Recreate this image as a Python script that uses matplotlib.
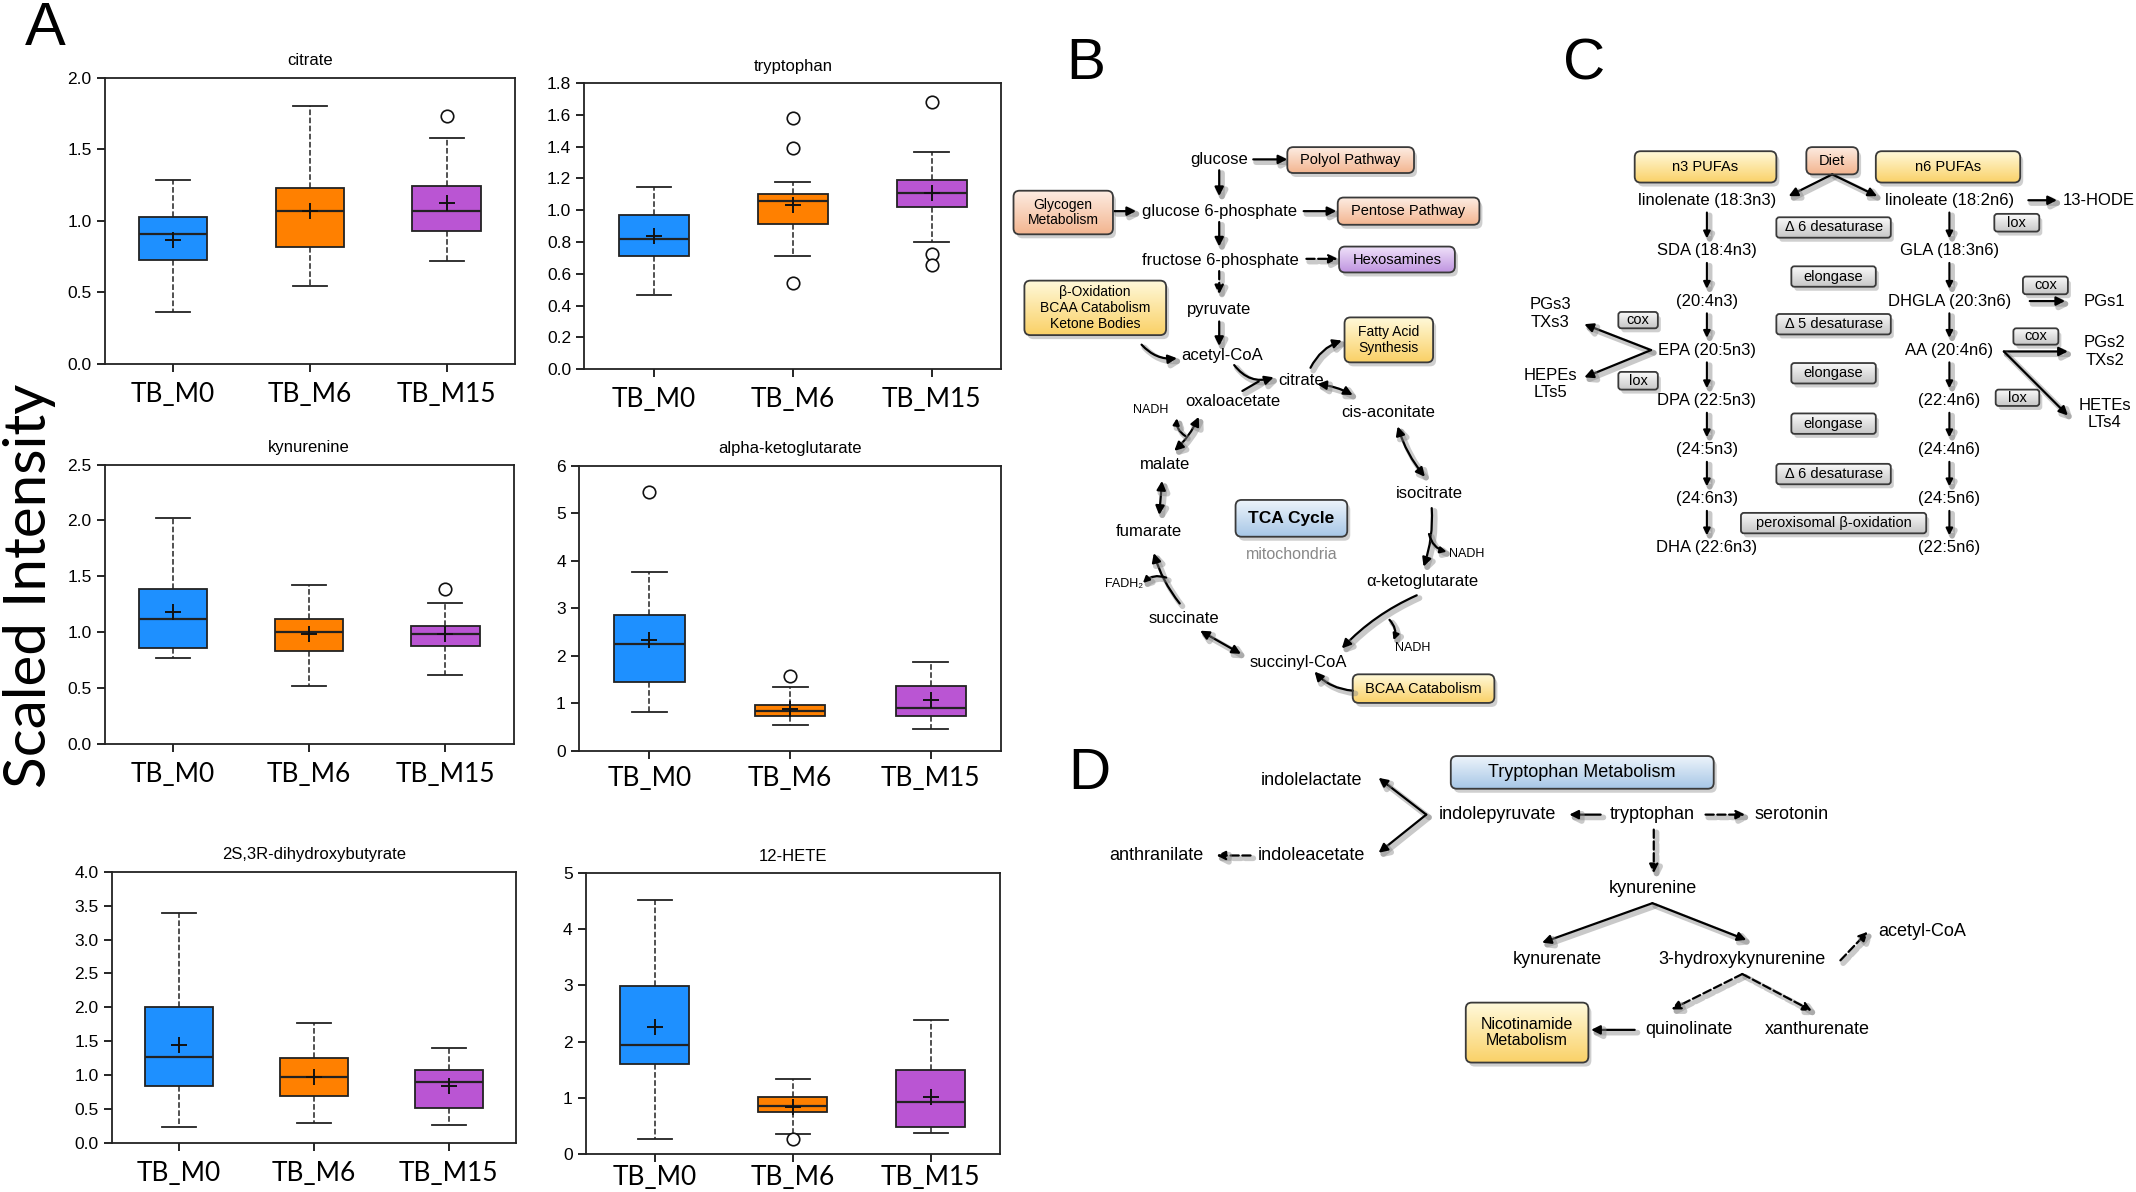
import numpy as np
import matplotlib
matplotlib.use('Agg')
import matplotlib.pyplot as plt
from matplotlib.patches import FancyBboxPatch
from matplotlib.colors import LinearSegmentedColormap
from matplotlib.ticker import FormatStrFormatter, MultipleLocator
import matplotlib.patheffects as pe

W, H = 2136, 1192
S = 2136 / 1568.0
SANS = ['Liberation Sans', 'DejaVu Sans']
CAL = ['Lato', 'DejaVu Sans']

groups = ['TB_M0', 'TB_M6', 'TB_M15']
colors = ['#1E90FF', '#FF8000', '#BA55D3']

# rows per group: [whisker low, Q1, median, Q3, whisker high, mean]
citrate = [[0.36, 0.725, 0.904, 1.024, 1.285, 0.866],
           [0.544, 0.818, 1.069, 1.226, 1.80, 1.07],
           [0.72, 0.927, 1.066, 1.245, 1.577, 1.127]]
citrate_out = [[], [], [1.735]]

tryptophan = [[0.467, 0.712, 0.821, 0.970, 1.144, 0.836],
              [0.710, 0.914, 1.060, 1.104, 1.180, 1.031],
              [0.803, 1.023, 1.111, 1.190, 1.366, 1.109]]
tryptophan_out = [[], [1.582, 1.391, 0.541], [1.681, 0.727, 0.658]]

kynurenine = [[0.769, 0.861, 1.114, 1.386, 2.02, 1.18],
              [0.515, 0.828, 0.998, 1.12, 1.424, 0.986],
              [0.617, 0.873, 0.986, 1.052, 1.257, 0.983]]
kynurenine_out = [[], [], [1.383]]

akg = [[0.817, 1.45, 2.256, 2.86, 3.77, 2.34],
       [0.531, 0.726, 0.831, 0.964, 1.334, 0.873],
       [0.447, 0.726, 0.901, 1.369, 1.858, 1.068]]
akg_out = [[5.44], [1.564], []]

dhb = [[0.236, 0.84, 1.263, 2.0, 3.395, 1.44],
       [0.295, 0.698, 0.978, 1.248, 1.769, 0.968],
       [0.26, 0.511, 0.899, 1.071, 1.405, 0.84]]
dhb_out = [[], [], []]

hete = [[0.262, 1.60, 1.94, 2.988, 4.518, 2.262],
        [0.345, 0.738, 0.845, 1.012, 1.333, 0.839],
        [0.363, 0.482, 0.923, 1.50, 2.393, 1.012]]
hete_out = [[], [0.268], []]

fig = plt.figure(figsize=(21.36, 11.92), dpi=100)


def frac_rect(l, t, r, b):
    return [l * S / W, 1 - b * S / H, (r - l) * S / W, (b - t) * S / H]


panels = [
    ('citrate', citrate, citrate_out, 2.0, 0.5, '%.1f', (77, 57, 378, 267), 7),
    ('tryptophan', tryptophan, tryptophan_out, 1.8, 0.2, '%.1f', (429, 61, 735, 271), 7),
    ('kynurenine', kynurenine, kynurenine_out, 2.5, 0.5, '%.1f', (77, 341, 377, 546), 7),
    ('alpha-ketoglutarate', akg, akg_out, 6, 1, '%d', (425, 342, 735, 551), 5),
    ('2S,3R-dihydroxybutyrate', dhb, dhb_out, 4.0, 0.5, '%.1f', (82, 640, 379, 839), 7),
    ('12-HETE', hete, hete_out, 5, 1, '%d', (430, 641, 734, 847), 2),
]

for title, st, outl, ymax, step, fmt, rect, xpad in panels:
    ax = fig.add_axes(frac_rect(*rect))
    stats = []
    for g, row, o in zip(groups, st, outl):
        stats.append(dict(label=g, whislo=row[0], q1=row[1], med=row[2], q3=row[3],
                          whishi=row[4], mean=row[5], fliers=o))
    bp = ax.bxp(stats, positions=[1, 2, 3], widths=0.5, capwidths=0.25, patch_artist=True,
                showmeans=True,
                boxprops=dict(edgecolor='#222222', linewidth=1.3),
                medianprops=dict(color='#222222', linewidth=1.6),
                whiskerprops=dict(color='#222222', linestyle='--', linewidth=1.1),
                capprops=dict(color='#222222', linewidth=1.3),
                meanprops=dict(marker='+', markeredgecolor='#111111', markersize=11,
                               markeredgewidth=1.4),
                flierprops=dict(marker='o', markerfacecolor='white', markeredgecolor='#111111',
                                markersize=9, markeredgewidth=1.2))
    for patch, c in zip(bp['boxes'], colors):
        patch.set_facecolor(c)
    ax.set_xlim(0.5, 3.5)
    ax.set_ylim(0, ymax)
    ax.yaxis.set_major_locator(MultipleLocator(step))
    ax.yaxis.set_major_formatter(FormatStrFormatter(fmt))
    ax.set_xticks([1, 2, 3])
    ax.set_xticklabels(groups, fontsize=19, fontfamily=CAL)
    for lab in ax.get_yticklabels():
        lab.set_fontfamily(SANS)
        lab.set_fontsize(12.5)
    ax.tick_params(direction='out', length=6, width=1.2, top=False, right=False)
    ax.tick_params(axis='x', pad=xpad)
    for sp in ax.spines.values():
        sp.set_linewidth(1.3)
        sp.set_color('#222222')
    ax.set_title(title, fontsize=12, fontfamily=SANS, pad=9)

# ---------------- overlay for diagrams -----------------
ov = fig.add_axes([0, 0, 1, 1])
ov.set_xlim(0, W)
ov.set_ylim(H, 0)
ov.set_autoscale_on(False)
ov.axis('off')

SAL = ('#FDEDE3', '#F3B590')
YEL = ('#FFF9DA', '#FAD167')
PUR = ('#F0E2FA', '#C096E0')
BLU = ('#EDF4FB', '#A6C6E6')
GRY = ('#FBFBFB', '#C6C6C6')


def T(x, y, s, fs=12, color='black', weight='normal', fam=SANS, ha='center', **kw):
    ov.text(x * S, y * S, s, ha=ha, va='center', fontsize=fs, color=color,
            fontweight=weight, family=fam, **kw)


def gbox(x0, y0, x1, y1, cols, text, fs, bold=False, rs=6):
    X0, Y0, X1, Y1 = x0 * S, y0 * S, x1 * S, y1 * S
    sh = FancyBboxPatch((X0 + 3, Y0 + 4), X1 - X0, Y1 - Y0,
                        boxstyle=f'round,pad=0,rounding_size={rs}', fc='#777777', ec='none',
                        alpha=0.35, zorder=2)
    ov.add_patch(sh)
    p = FancyBboxPatch((X0, Y0), X1 - X0, Y1 - Y0, boxstyle=f'round,pad=0,rounding_size={rs}',
                       fc='none', ec='#3a3a3a', lw=1.3, zorder=4)
    ov.add_patch(p)
    cm = LinearSegmentedColormap.from_list('g', list(cols))
    im = ov.imshow(np.linspace(0, 1, 100)[:, None], extent=(X0, X1, Y1, Y0), cmap=cm,
                   aspect='auto', zorder=3, interpolation='bilinear')
    im.set_clip_path(p)
    ov.text((X0 + X1) / 2, (Y0 + Y1) / 2, text, ha='center', va='center', fontsize=fs,
            family=SANS, fontweight='bold' if bold else 'normal', zorder=5, linespacing=1.15)


def A(x1, y1, x2, y2, rad=0.0, ls='-', style='-|>', lw=1.6, ms=13, shadow=True):
    kw = dict(arrowstyle=style, color='black', lw=lw, linestyle=ls,
              connectionstyle=f'arc3,rad={rad}', mutation_scale=ms, shrinkA=0, shrinkB=0)
    if shadow:
        kw['path_effects'] = [pe.SimpleLineShadow(offset=(2, -2), shadow_color='#888888',
                                                  alpha=0.45, linewidth=lw + 2.5),
                              pe.Normal()]
    ov.annotate('', xy=(x2 * S, y2 * S), xytext=(x1 * S, y1 * S), arrowprops=kw)


# panel letters and y label
T(33, 22, 'A', fs=44)
T(797, 47, 'B', fs=42)
T(1163, 47, 'C', fs=42)
T(800, 568, 'D', fs=42)
ov.text(30, 586, 'Scaled Intensity', rotation=90, ha='center', va='center', fontsize=42,
        family=CAL)

# ---------------- Panel B -----------------
T(895, 117, 'glucose')
A(920, 117, 945, 117)
gbox(945, 108, 1038, 127, SAL, 'Polyol Pathway', 10.5)
A(895, 125, 895, 144)
gbox(744, 140, 817, 172, SAL, 'Glycogen\nMetabolism', 10)
A(818, 155, 834, 155)
T(895, 155, 'glucose 6-phosphate')
A(957, 155, 981, 155)
gbox(982, 145, 1086, 165, SAL, 'Pentose Pathway', 10.5)
A(895, 163, 895, 181)
T(896, 191, 'fructose 6-phosphate')
A(959, 190, 982, 190, ls='--')
gbox(983, 181, 1068, 200, PUR, 'Hexosamines', 10.5)
A(895, 199, 895, 216, ls='--')
T(895, 227, 'pyruvate')
gbox(752, 206, 856, 246, YEL, 'β-Oxidation\nBCAA Catabolism\nKetone Bodies', 10)
A(895, 236, 895, 254)
T(897, 261, 'acetyl-CoA')
A(838, 253, 864, 263, rad=0.25)
gbox(987, 233, 1052, 266, YEL, 'Fatty Acid\nSynthesis', 10)
T(955, 279, 'citrate')
A(962, 270, 985, 250, rad=-0.2)
T(905, 295, 'oxaloacetate')
A(906, 268, 935, 277, rad=0.35)
A(912, 287, 924, 280, style='-')
T(1019, 303, 'cis-aconitate')
A(967, 282, 993, 290, style='<|-|>', rad=-0.1)
T(845, 301, 'NADH', fs=9)
T(855, 341, 'malate')
A(862, 331, 880, 306, style='<|-|>', rad=0.1)
A(870, 320, 864, 307, rad=-0.3, ms=9)
T(1049, 362, 'isocitrate')
A(1026, 313, 1046, 350, style='<|-|>', rad=0.1)
T(843, 390, 'fumarate')
A(851, 378, 853, 353, style='<|-|>')
gbox(907, 367, 989, 394, BLU, 'TCA Cycle', 12.5, bold=True)
T(948, 407, 'mitochondria', color='#888888', fs=11.5)
T(1077, 407, 'NADH', fs=9)
T(1044, 427, 'α-ketoglutarate')
A(1051, 373, 1045, 416, rad=-0.1)
A(1049, 392, 1062, 405, rad=0.3, ms=9)
T(825, 429, 'FADH₂', fs=9)
T(869, 454, 'succinate')
A(866, 443, 847, 406, rad=-0.1)
A(856, 424, 839, 428, rad=0.3, ms=9)
T(953, 486, 'succinyl-CoA')
A(1040, 437, 985, 476, rad=0.1)
A(1020, 455, 1023, 470, rad=-0.3, ms=9)
T(1037, 476, 'NADH', fs=9)
A(881, 463, 911, 480, style='<|-|>')
gbox(993, 495, 1097, 516, YEL, 'BCAA Catabolism', 10.5)
A(993, 507, 965, 493, rad=-0.2)

# ---------------- Panel C -----------------
gbox(1200, 111, 1304, 134, YEL, 'n3 PUFAs', 10.5)
gbox(1377, 111, 1483, 134, YEL, 'n6 PUFAs', 10.5)
gbox(1326, 108, 1364, 128, SAL, 'Diet', 10.5)
A(1345, 128, 1313, 144)
A(1345, 128, 1378, 144)
rows_y = [147, 184, 221, 257, 294, 330, 366, 402]
n3_labels = ['linolenate (18:3n3)', 'SDA (18:4n3)', '(20:4n3)', 'EPA (20:5n3)',
             'DPA (22:5n3)', '(24:5n3)', '(24:6n3)', 'DHA (22:6n3)']
n6_labels = ['linoleate (18:2n6)', 'GLA (18:3n6)', 'DHGLA (20:3n6)', 'AA (20:4n6)',
             '(22:4n6)', '(24:4n6)', '(24:5n6)', '(22:5n6)']
for i, y in enumerate(rows_y):
    T(1253, y, n3_labels[i], fs=12)
    T(1431, y, n6_labels[i], fs=12)
    if i < len(rows_y) - 1:
        A(1253, y + 9, 1253, rows_y[i + 1] - 9, lw=1.5, ms=10)
        A(1431, y + 9, 1431, rows_y[i + 1] - 9, lw=1.5, ms=10)
enzymes = [('Δ 6 desaturase', 167, 84), ('elongase', 203, 62), ('Δ 5 desaturase', 238, 84),
           ('elongase', 274, 62), ('elongase', 311, 62), ('Δ 6 desaturase', 348, 84),
           ('peroxisomal β-oxidation', 384, 136)]
for name, yc, w in enzymes:
    gbox(1346 - w / 2, yc - 7.5, 1346 + w / 2, yc + 7.5, GRY, name, 10.5, rs=3)
A(1489, 147, 1510, 147)
T(1541, 147, '13-HODE', fs=12)
gbox(1464, 157, 1497, 170, GRY, 'lox', 10.5, rs=3)
gbox(1485, 203, 1518, 216, GRY, 'cox', 10.5, rs=3)
A(1490, 221, 1516, 221)
T(1545, 221, 'PGs1', fs=12)
gbox(1478, 241, 1511, 253, GRY, 'cox', 10.5, rs=3)
A(1471, 258, 1518, 258)
T(1545, 258, 'PGs2\nTXs2', fs=12)
gbox(1465, 286, 1497, 298, GRY, 'lox', 10.5, rs=3)
A(1471, 258, 1518, 305)
T(1545, 304, 'HETEs\nLTs4', fs=12)
gbox(1188, 229, 1217, 241, GRY, 'cox', 10.5, rs=3)
gbox(1188, 273, 1217, 286, GRY, 'lox', 10.5, rs=3)
A(1212, 257, 1163, 238)
A(1212, 257, 1163, 277)
T(1138, 230, 'PGs3\nTXs3', fs=12)
T(1138, 282, 'HEPEs\nLTs5', fs=12)

# ---------------- Panel D -----------------
gbox(1065, 555, 1258, 579, BLU, 'Tryptophan Metabolism', 13)
T(963, 573, 'indolelactate', fs=13)
T(1099, 598, 'indolepyruvate', fs=13)
T(1213, 598, 'tryptophan', fs=13)
T(1315, 598, 'serotonin', fs=13)
T(849, 628, 'anthranilate', fs=13)
T(963, 628, 'indoleacetate', fs=13)
A(1175, 598, 1152, 598)
A(1252, 598, 1281, 598, ls='--')
A(1047, 598, 1012, 571)
A(1047, 598, 1012, 626)
A(918, 628, 893, 628, ls='--')
A(1214, 609, 1214, 641, ls='--')
T(1213, 652, 'kynurenine', fs=13)
A(1213, 663, 1132, 692)
A(1213, 663, 1282, 690)
T(1143, 704, 'kynurenate', fs=13)
T(1279, 704, '3-hydroxykynurenine', fs=13)
A(1351, 705, 1371, 684, ls='--')
T(1411, 684, 'acetyl-CoA', fs=13)
A(1279, 715, 1227, 741, ls='--')
A(1279, 715, 1330, 742, ls='--')
T(1240, 756, 'quinolinate', fs=13)
T(1334, 756, 'xanthurenate', fs=13)
gbox(1076, 736, 1166, 780, YEL, 'Nicotinamide\nMetabolism', 11.5)
A(1200, 756, 1168, 756)

fig.savefig('out.png', dpi=100)
